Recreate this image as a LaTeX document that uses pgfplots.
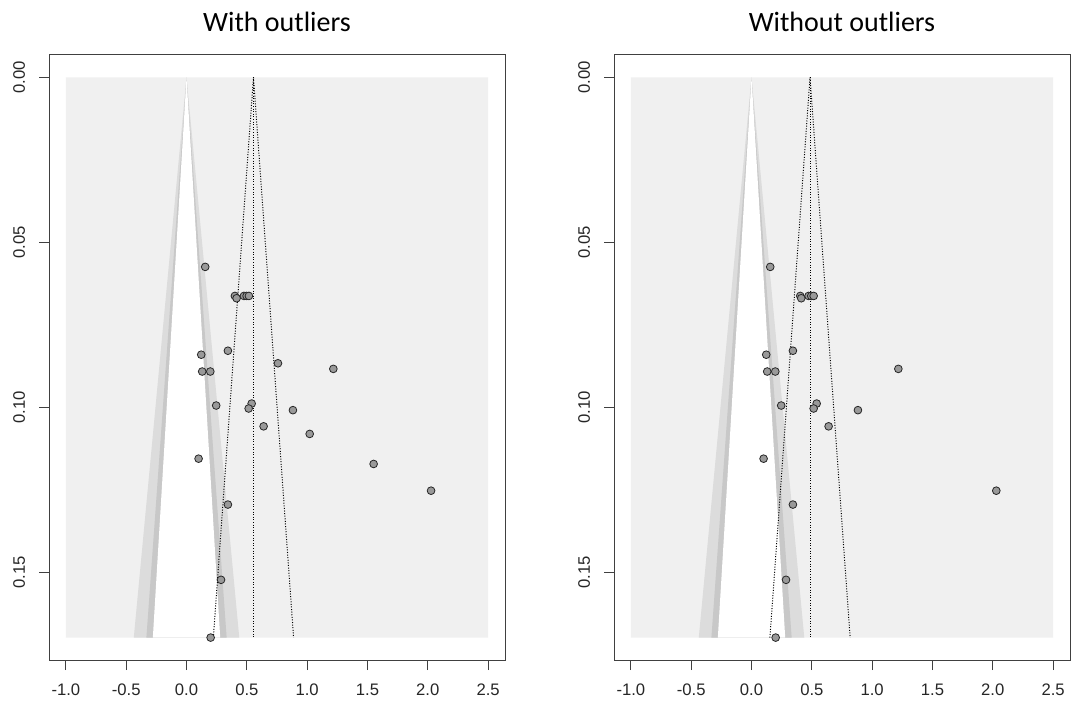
\documentclass[border=0pt]{standalone}
\usepackage{pgfplots}
\pgfplotsset{compat=1.18}
\usepackage{pgfplotstable}
\usepackage{fontspec}
\setmainfont{Liberation Sans}
\newfontfamily\titlefont{Carlito}
\definecolor{bgc}{HTML}{F0F0F0}
\definecolor{band95}{HTML}{C8C8C8}
\definecolor{band99}{HTML}{DCDCDC}
\definecolor{ptfill}{HTML}{999999}
\definecolor{boxc}{HTML}{404040}

% with outliers: effect, standard error
\pgfplotstableread{
x se
0.155 0.0574
0.401 0.0662
0.415 0.0669
0.476 0.0662
0.498 0.0662
0.517 0.0662
0.343 0.0828
0.122 0.0840
0.758 0.0866
1.217 0.0883
0.130 0.0891
0.197 0.0891
0.246 0.0994
0.540 0.0988
0.515 0.1003
0.882 0.1008
0.639 0.1057
1.021 0.1080
0.100 0.1155
1.551 0.1171
2.027 0.1252
0.343 0.1294
0.286 0.1522
0.200 0.1697
}\withtab
% without outliers
\pgfplotstableread{
x se
0.155 0.0574
0.404 0.0662
0.412 0.0669
0.473 0.0662
0.495 0.0662
0.515 0.0662
0.343 0.0828
0.122 0.0840
1.217 0.0883
0.130 0.0891
0.197 0.0891
0.246 0.0994
0.540 0.0988
0.515 0.1003
0.882 0.1008
0.639 0.1057
0.100 0.1155
2.029 0.1252
0.343 0.1294
0.286 0.1522
0.200 0.1697
}\withouttab

\pgfplotsset{
  funnelaxis/.style={
    scale only axis, width=342pt, height=453.75pt,
    anchor=south west,
    xmin=-1.14, xmax=2.64, ymin=-0.00679, ymax=0.17649, y dir=reverse,
    xtick={-1,-0.5,0,0.5,1,1.5,2,2.5},
    xticklabels={-1.0,-0.5,0.0,0.5,1.0,1.5,2.0,2.5},
    ytick={0,0.05,0.10,0.15},
    yticklabels={0.00,0.05,0.10,0.15},
    tick align=outside, major tick length=7.5pt,
    xtick pos=bottom, ytick pos=left,
    axis line style={boxc, line width=0.75pt},
    tick style={boxc, line width=0.75pt},
    ticklabel style={font=\fontsize{12.5}{14}\selectfont, text=black!85},
    yticklabel style={rotate=90, anchor=south, text height=9pt, text depth=0pt},
    xticklabel style={anchor=north, text height=9pt, text depth=0pt},
    xticklabel shift=6.5pt,
    yticklabel shift=7pt,
    axis background/.style={fill=white},
    title style={font=\titlefont\fontsize{21}{25}\selectfont, at={(0.5,1)}, anchor=base, yshift=11.25pt},
    clip=false,
  },
  pts/.style={only marks, mark=*, mark size=2.9pt, mark options={fill=ptfill, draw=black!85, line width=0.6pt}},
  dots/.style={black, line width=0.75pt, dash pattern=on 0.75pt off 1.2pt},
}

\begin{document}
\begin{tikzpicture}
\useasboundingbox (0,0) rectangle (805.5pt,527.25pt);
% ---------- left ----------
\begin{axis}[funnelaxis, at={(36.75pt,32.25pt)}, title={With outliers}]
\addplot[fill=bgc, draw=none] coordinates {(-1,0) (2.5,0) (2.5,0.1697) (-1,0.1697) (-1,0)};
\addplot[fill=band99, draw=none] coordinates {(0,0) (-0.4371,0.1697) (0.4371,0.1697) (0,0)};
\addplot[fill=band95, draw=none] coordinates {(0,0) (-0.3326,0.1697) (0.3326,0.1697) (0,0)};
\addplot[fill=white, draw=none] coordinates {(0,0) (-0.2791,0.1697) (0.2791,0.1697) (0,0)};
\addplot[dots] coordinates {(0.555,0) (0.555,0.1697)};
\addplot[dots] coordinates {(0.2224,0.1697) (0.555,0) (0.8876,0.1697)};
\addplot[pts] table[x=x, y=se] {\withtab};
\end{axis}
% ---------- right ----------
\begin{axis}[funnelaxis, at={(460.5pt,32.25pt)}, title={Without outliers}]
\addplot[fill=bgc, draw=none] coordinates {(-1,0) (2.5,0) (2.5,0.1697) (-1,0.1697) (-1,0)};
\addplot[fill=band99, draw=none] coordinates {(0,0) (-0.4371,0.1697) (0.4371,0.1697) (0,0)};
\addplot[fill=band95, draw=none] coordinates {(0,0) (-0.3326,0.1697) (0.3326,0.1697) (0,0)};
\addplot[fill=white, draw=none] coordinates {(0,0) (-0.2791,0.1697) (0.2791,0.1697) (0,0)};
\addplot[dots] coordinates {(0.485,0) (0.485,0.1697)};
\addplot[dots] coordinates {(0.1524,0.1697) (0.485,0) (0.8176,0.1697)};
\addplot[pts] table[x=x, y=se] {\withouttab};
\end{axis}
\end{tikzpicture}
\end{document}
